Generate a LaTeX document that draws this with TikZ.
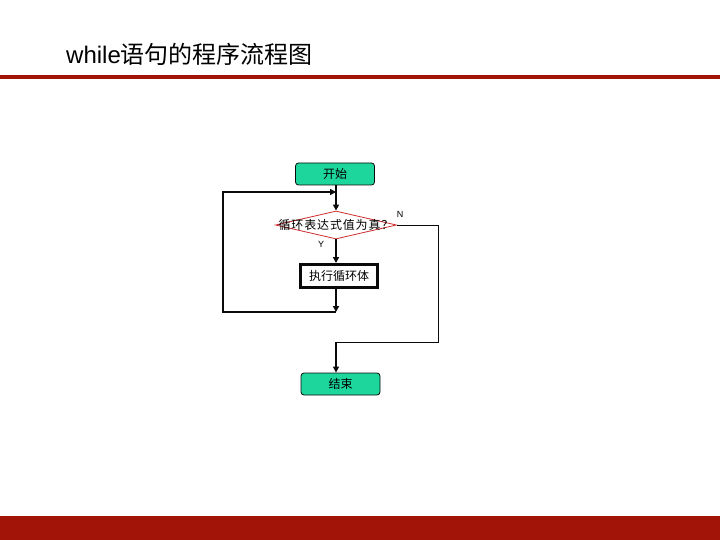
\documentclass[tikz,border=0pt]{standalone}
\usepackage{fontspec}
\setmainfont{Liberation Sans}
\newfontfamily\cjk{Noto Sans CJK SC}
\usetikzlibrary{arrows.meta,shapes.geometric}
\definecolor{barred}{RGB}{163,20,8}
\definecolor{termfill}{RGB}{28,214,156}
\definecolor{testline}{RGB}{205,45,45}
\definecolor{figline}{RGB}{10,10,10}
\tikzset{
  term/.style  ={draw=figline, line width=0.8pt, rounded corners=3pt, fill=termfill,
                 minimum width=79pt, minimum height=22pt, inner sep=0pt,
                 font=\cjk\fontsize{12}{14}\selectfont},
  task/.style  ={draw=figline, line width=3pt, fill=white,
                 minimum width=77pt, minimum height=23pt, inner sep=0pt,
                 font=\cjk\fontsize{12}{14}\selectfont},
  test/.style  ={diamond, draw=testline, line width=0.8pt, fill=white,
                 minimum width=121pt, minimum height=28pt, inner sep=0pt,
                 font=\cjk\fontsize{12}{14}\selectfont\addfontfeature{LetterSpace=7}},
  flow/.style  ={draw=figline, line width=2.4pt, -{Triangle[length=6pt,width=6pt]}},
  loop/.style  ={draw=figline, line width=1.8pt},
  exit/.style  ={draw=figline, line width=0.9pt},
  yn/.style    ={font=\fontsize{9}{10}\selectfont, inner sep=1pt},
}

\begin{document}
\begin{tikzpicture}[x=1pt,y=-1pt]
  \useasboundingbox (0,0) rectangle (720,540);
  % header and footer
  \node[anchor=base west, font=\fontsize{24}{28}\selectfont, inner sep=0pt] (title) at (66,64) {while\cjk 语句的程序流程图};
  \fill[barred] (0,75.5) rectangle (720,79);
  \fill[barred] (0,516) rectangle (720,540);
  % flow chart
  \node[term] (start) at (335,174) {开始};
  \node[test] (cond) at (336,225) {\makebox[0pt]{循环表达式值为真？}};
  \node[task] (body) at (339,276) {执行循环体};
  \node[term] (stop) at (340.5,384) {结束};
  \coordinate (join) at (336,192);
  \coordinate (back) at (336,312);
  \coordinate (out) at (336,342);
  \node[yn] (no) at (400,214) {N};
  \node[yn] (yes) at (321,244) {Y};
  \draw[flow] (start.south -| cond) -- (cond.north);
  \draw[flow] (cond.south) -- (cond.south |- body.north);
  \draw[flow] (cond.south |- body.south) -- (back);
  \draw[loop, -{Triangle[length=6pt,width=6pt]}] (back) -- (223,312) -- (223,192) -- (join);
  \draw[exit] (cond.east) -- (438,225) -- (438,342) -- (out);
  \draw[flow] (out) -- (out |- stop.north);
\end{tikzpicture}
\end{document}
